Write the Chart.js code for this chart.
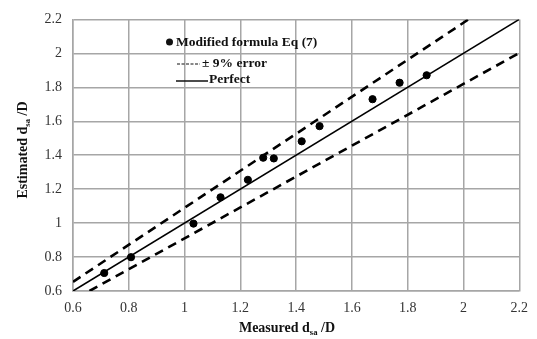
<!DOCTYPE html>
<html><head><meta charset="utf-8">
<script src="https://cdn.jsdelivr.net/npm/chart.js@4"></script>
<style>html,body{margin:0;padding:0;background:#fff}#wrap{width:537px;height:339px;position:relative}</style>
</head><body><div id="wrap"><canvas id="c" width="537" height="339"></canvas></div>
<script>
const measured = [0.712, 0.808, 1.032, 1.129, 1.227, 1.282, 1.320, 1.420, 1.484, 1.674, 1.771, 1.868];
const estimated = [0.706, 0.799, 0.997, 1.152, 1.255, 1.385, 1.381, 1.482, 1.571, 1.730, 1.827, 1.871];
const perfectLine = [[0.6, 0.6], [2.2, 2.2]];
const upperLine = [[0.6, 0.654], [2.018, 2.2]];
const lowerLine = [[0.659, 0.6], [2.2, 2.002]];
const axisTicks = [0.6, 0.8, 1, 1.2, 1.4, 1.6, 1.8, 2, 2.2];
const tickLabels = ["0.6", "0.8", "1", "1.2", "1.4", "1.6", "1.8", "2", "2.2"];
const legendLabels = ["Modified formula Eq (7)", "± 9% error", "Perfect"];
const xTitle = ["Measured d", "sa", " /D"];
const yTitle = ["Estimated d", "sa", " /D"];

const toXY = a => a.map(p => ({x: p[0], y: p[1]}));
const serif = '"Liberation Serif", "Times New Roman", serif';

function drawSubTitle(ctx, parts, size) {
  ctx.font = 'bold ' + size + 'px ' + serif;
  const w0 = ctx.measureText(parts[0]).width;
  ctx.font = 'bold ' + (size * 0.62) + 'px ' + serif;
  const w1 = ctx.measureText(parts[1]).width;
  ctx.font = 'bold ' + size + 'px ' + serif;
  const w2 = ctx.measureText(parts[2]).width;
  let x = -(w0 + w1 + w2) / 2;
  ctx.textBaseline = 'alphabetic';
  ctx.textAlign = 'left';
  ctx.fillText(parts[0], x, 0); x += w0;
  ctx.font = 'bold ' + (size * 0.62) + 'px ' + serif;
  ctx.fillText(parts[1], x, 3); x += w1;
  ctx.font = 'bold ' + size + 'px ' + serif;
  ctx.fillText(parts[2], x, 0);
}

const overlay = {
  id: 'overlay',
  afterDraw(chart) {
    const ctx = chart.ctx;
    ctx.save();
    ctx.fillStyle = '#111';
    ctx.save(); ctx.translate(287, 332); drawSubTitle(ctx, xTitle, 14); ctx.restore();
    ctx.save(); ctx.translate(27, 150); ctx.rotate(-Math.PI / 2); drawSubTitle(ctx, yTitle, 14); ctx.restore();
    ctx.font = 'bold 13.5px ' + serif;
    ctx.textBaseline = 'middle';
    ctx.textAlign = 'left';
    ctx.beginPath(); ctx.arc(169.5, 42, 3.5, 0, Math.PI * 2); ctx.fill();
    ctx.fillText(legendLabels[0], 176, 43);
    ctx.strokeStyle = '#111';
    ctx.lineWidth = 1.2;
    ctx.setLineDash([3, 1.5]);
    ctx.beginPath(); ctx.moveTo(177, 64); ctx.lineTo(200, 64); ctx.stroke();
    ctx.setLineDash([]);
    ctx.fillText(legendLabels[1], 202, 64);
    ctx.lineWidth = 1.5;
    ctx.beginPath(); ctx.moveTo(176, 81); ctx.lineTo(208, 81); ctx.stroke();
    ctx.fillText(legendLabels[2], 209, 80);
    ctx.restore();
  }
};

const gridOpts = {color: '#a6a6a6', lineWidth: 1.5, drawTicks: false};
const tickFont = {family: serif, size: 14};
const tickCb = v => { const i = axisTicks.findIndex(t => Math.abs(t - v) < 1e-6); return i >= 0 ? tickLabels[i] : ''; };

new Chart(document.getElementById('c'), {
  type: 'scatter',
  data: {
    datasets: [
      {data: measured.map((v, i) => ({x: v, y: estimated[i]})), backgroundColor: '#000', borderColor: '#000', pointRadius: 3.6, pointHoverRadius: 3.6, order: 0},
      {type: 'line', data: toXY(perfectLine), borderColor: '#000', borderWidth: 1.6, pointRadius: 0, fill: false, order: 1},
      {type: 'line', data: toXY(upperLine), borderColor: '#000', borderWidth: 2.6, borderDash: [9, 6], pointRadius: 0, fill: false, order: 1},
      {type: 'line', data: toXY(lowerLine), borderColor: '#000', borderWidth: 2.6, borderDash: [9, 6], pointRadius: 0, fill: false, order: 1}
    ]
  },
  options: {
    responsive: false,
    animation: false,
    devicePixelRatio: 1,
    layout: {padding: {top: 16, right: 9, left: 0, bottom: 0}},
    plugins: {legend: {display: false}, tooltip: {enabled: false}},
    scales: {
      x: {
        type: 'linear', min: 0.6, max: 2.2,
        afterBuildTicks: s => { s.ticks = axisTicks.map(v => ({value: v})); },
        afterFit: s => { s.height = 48; },
        grid: gridOpts, border: {color: '#a6a6a6', width: 1.5},
        ticks: {font: tickFont, color: '#333', padding: 9, callback: tickCb}
      },
      y: {
        type: 'linear', min: 0.6, max: 2.2,
        afterBuildTicks: s => { s.ticks = axisTicks.map(v => ({value: v})); },
        afterFit: s => { s.width = 73; },
        grid: gridOpts, border: {color: '#a6a6a6', width: 1.5},
        ticks: {font: tickFont, color: '#333', padding: 11, callback: tickCb}
      }
    }
  },
  plugins: [overlay]
});
</script></body></html>
